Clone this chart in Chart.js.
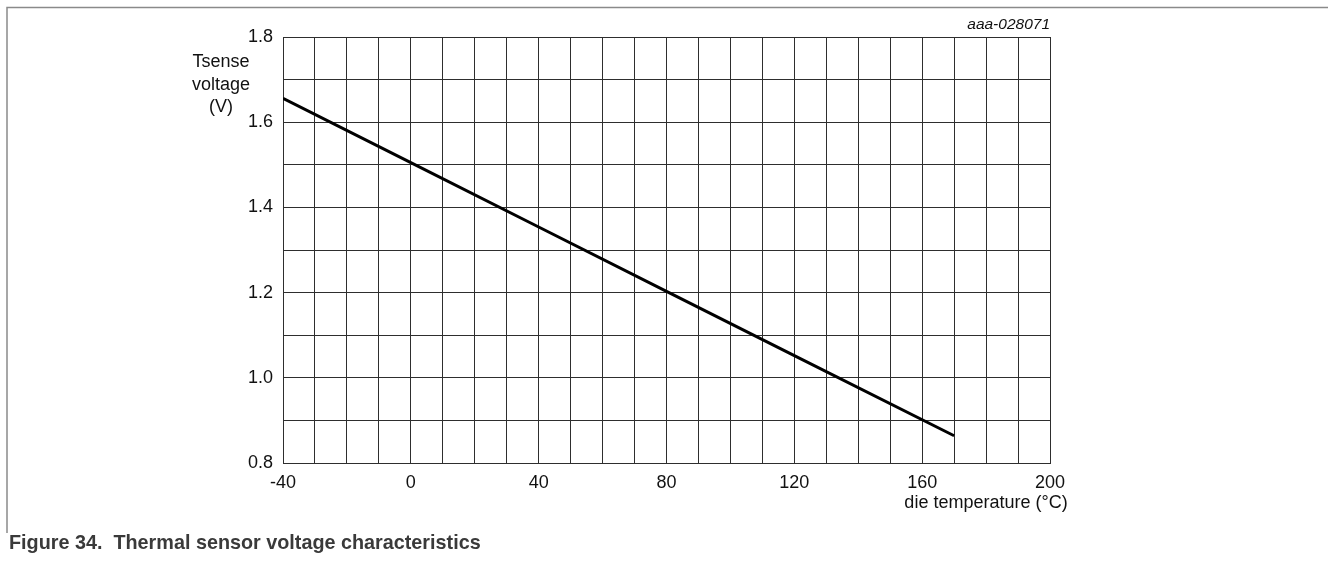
<!DOCTYPE html>
<html>
<head>
<meta charset="utf-8">
<script src="https://cdn.jsdelivr.net/npm/chart.js@4/dist/chart.umd.min.js"></script>
<style>
  html, body { margin: 0; padding: 0; background: #fff; }
  #wrap { position: relative; width: 1328px; height: 561px; }
</style>
</head>
<body>
<div id="wrap"><canvas id="tsense" width="1328" height="561"></canvas></div>
<script>
// values (die temperature in degC, Tsense in V)
const temps = [-40, 0, 40, 80, 120, 170]
const volts = [1.656, 1.505, 1.354, 1.203, 1.052, 0.864]

const xTicks = [-40, 0, 40, 80, 120, 160, 200]
const yTicks = [0.8, 1.0, 1.2, 1.4, 1.6, 1.8]

const yTitle = ['Tsense', 'voltage', '(V)']
const xTitle = 'die temperature (°C)'
const figCode = 'aaa-028071'
const caption = 'Figure 34.  Thermal sensor voltage characteristics'

const FONT = '"Liberation Sans", Arial, sans-serif'
const GRID = '#2e2e2e'

// extra text + page frame drawn on the canvas
const decor = {
  id: 'decor',
  beforeDraw(chart) {
    const c = chart.ctx
    c.save()
    c.fillStyle = '#fff'
    c.fillRect(0, 0, chart.width, chart.height)
    c.strokeStyle = '#8a8a8a'
    c.lineWidth = 1.5
    c.beginPath()
    c.moveTo(7, 533)
    c.lineTo(7, 7.5)
    c.lineTo(chart.width, 7.5)
    c.stroke()
    c.restore()
  },
  afterDraw(chart) {
    const c = chart.ctx
    const area = chart.chartArea
    c.save()
    c.fillStyle = '#111'
    c.textBaseline = 'middle'
    c.textAlign = 'center'
    c.font = '18px ' + FONT
    yTitle.forEach((t, i) => c.fillText(t, 221, 62 + i * 22.7))
    c.fillText(xTitle, 986, 503)

    c.font = 'italic 15.5px ' + FONT
    c.textAlign = 'right'
    c.fillText(figCode, area.right, 25)

    c.font = 'bold 19.8px ' + FONT
    c.fillStyle = '#3a3a3a'
    c.textAlign = 'left'
    c.fillText(caption, 9, 544)
    c.restore()
  }
}

new Chart(document.getElementById('tsense').getContext('2d'), {
  type: 'scatter',
  data: {
    datasets: [
      {
        data: temps.map((t, i) => ({ x: t, y: volts[i] })),
        showLine: true,
        borderColor: '#000',
        borderWidth: 3,
        pointRadius: 0,
        tension: 0
      }
    ]
  },
  options: {
    responsive: false,
    animation: false,
    layout: { padding: { top: 37, right: 278, left: 0, bottom: 0 } },
    plugins: { legend: { display: false }, tooltip: { enabled: false } },
    scales: {
      x: {
        type: 'linear',
        min: -40,
        max: 200,
        afterFit: s => { s.height = 98 },
        grid: { color: GRID, lineWidth: 1, drawTicks: false },
        border: { display: true, color: GRID, width: 1 },
        ticks: {
          stepSize: 10,
          padding: 9,
          maxRotation: 0,
          autoSkip: false,
          color: '#111',
          font: { family: FONT, size: 18 },
          callback: v => xTicks.includes(v) ? String(v) : ''
        }
      },
      y: {
        min: 0.8,
        max: 1.8,
        afterFit: s => { s.width = 283 },
        grid: { color: GRID, lineWidth: 1, drawTicks: false },
        border: { display: true, color: GRID, width: 1 },
        ticks: {
          stepSize: 0.1,
          padding: 10,
          autoSkip: false,
          color: '#111',
          font: { family: FONT, size: 18 },
          callback: v => yTicks.some(t => Math.abs(t - v) < 1e-6) ? v.toFixed(1) : ''
        }
      }
    }
  },
  plugins: [decor]
})
</script>
</body>
</html>
